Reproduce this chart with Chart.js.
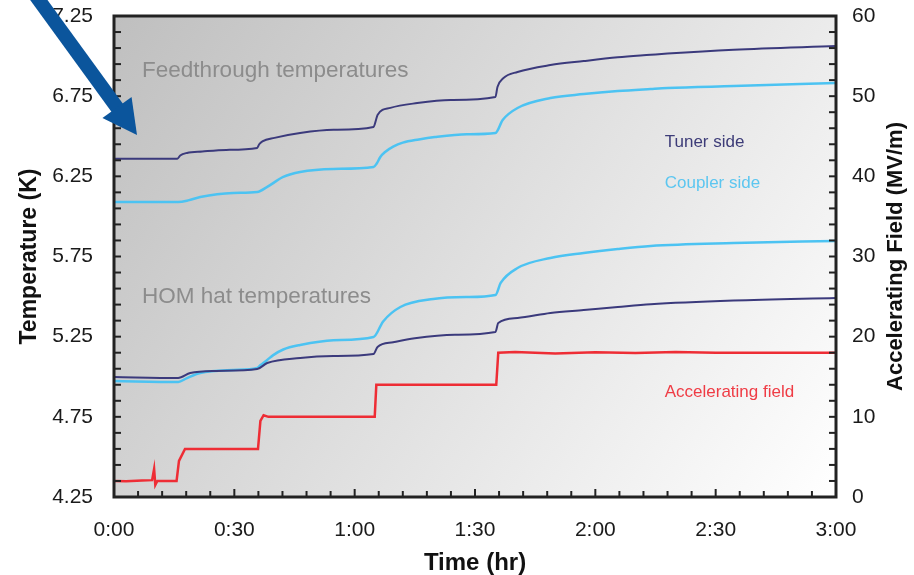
<!DOCTYPE html>
<html lang="en">

<head>
    <meta charset="UTF-8">
    <title>Feedthrough and HOM temperatures</title>
    <script src="https://cdn.jsdelivr.net/npm/chart.js"></script>
    <style>
        html, body { margin: 0; padding: 0; background: #fff; }
        .chart_box { width: 914px; height: 575px; position: relative; }
    </style>
</head>

<body>
    <div class="chart_box">
        <canvas id="tempChart"></canvas>
    </div>

    <script>
        // time in minutes, temperatures in K, field in MV/m
        const ftTunerTime = [0, 15.8, 16.5, 18.2, 22, 28, 35.7, 36.2, 37, 40, 46.4, 54.7, 64.7, 65.3, 65.7, 68.9, 75.6, 83.9, 95.1, 95.6, 97.1, 100.6, 108.8, 117.1, 125.6, 133.8, 138, 154.5, 180];
        const ftTunerTemp = [6.36, 6.36, 6.38, 6.396, 6.405, 6.415, 6.427, 6.45, 6.468, 6.49, 6.52, 6.54, 6.558, 6.6, 6.633, 6.677, 6.707, 6.726, 6.745, 6.807, 6.863, 6.901, 6.944, 6.969, 6.992, 7.008, 7.016, 7.04, 7.063];

        const ftCouplerTime = [0, 16, 18.5, 21.5, 29.7, 35.7, 38.2, 42.2, 46.4, 54.7, 64.7, 65.5, 66.4, 67.5, 69.6, 72, 76, 80, 88, 95.1, 96.9, 100.6, 108.8, 117.1, 125.6, 133.8, 138, 154.5, 180];
        const ftCouplerTemp = [6.09, 6.09, 6.1, 6.121, 6.146, 6.152, 6.184, 6.246, 6.277, 6.296, 6.308, 6.33, 6.371, 6.4, 6.435, 6.46, 6.48, 6.495, 6.512, 6.52, 6.601, 6.676, 6.738, 6.763, 6.782, 6.795, 6.801, 6.813, 6.832];

        const homTunerTime = [0, 16, 19, 25.5, 35.7, 38.2, 46.4, 54.7, 64.7, 65.7, 69.6, 75, 85, 95.1, 95.8, 100.6, 108.8, 117.1, 125.6, 133.8, 154.5, 180];
        const homTunerTemp = [4.998, 4.992, 5.023, 5.036, 5.048, 5.086, 5.117, 5.129, 5.142, 5.186, 5.215, 5.24, 5.262, 5.279, 5.335, 5.366, 5.398, 5.416, 5.435, 5.452, 5.475, 5.491];

        const homCouplerTime = [0, 16, 18.2, 21.5, 29.7, 35.7, 36.4, 38.2, 39.7, 42.2, 46.4, 54.7, 64.7, 67.1, 71.4, 79.6, 87.9, 95.1, 96.4, 100.6, 108.8, 117.1, 125.6, 133.8, 154.5, 180];
        const homCouplerTemp = [4.973, 4.967, 4.992, 5.023, 5.042, 5.055, 5.07, 5.105, 5.135, 5.17, 5.198, 5.228, 5.248, 5.345, 5.435, 5.485, 5.497, 5.51, 5.585, 5.678, 5.741, 5.772, 5.797, 5.816, 5.834, 5.847];

        const fieldTime = [0, 3, 7, 9.5, 10, 10.3, 10.8, 15.6, 16.2, 17.7, 35.9, 36.5, 37.3, 38.5, 65, 65.4, 95.3, 95.8, 100, 110, 120, 130, 140, 150, 180];
        const fieldValue = [2.0, 1.95, 2.05, 2.1, 3.5, 1.5, 2.0, 2.0, 4.5, 6.0, 6.0, 9.5, 10.2, 10.0, 10.0, 14.0, 14.0, 18.0, 18.1, 17.9, 18.05, 17.95, 18.1, 18.0, 18.0];

        const timeTicks = [0, 30, 60, 90, 120, 150, 180];

        const TUNER = '#3b3a7c';
        const COUPLER = '#4cc3f2';
        const FIELD = '#ee2d35';

        Chart.defaults.font.family = "'Liberation Sans', Arial, sans-serif";

        function pts(xs, ys) {
            return xs.map((x, i) => ({ x: x, y: ys[i] }));
        }

        function fmtTime(v) {
            return Math.floor(v / 60) + ':' + String(v % 60).padStart(2, '0');
        }

        // background, frame, inward ticks, notes and the arrow
        const decor = {
            id: 'decor',
            beforeDraw(chart) {
                const { ctx, chartArea: a } = chart;
                const g = ctx.createLinearGradient(a.left, a.top, a.right, a.bottom);
                g.addColorStop(0, '#bfbfbf');
                g.addColorStop(1, '#ffffff');
                ctx.save();
                ctx.fillStyle = g;
                ctx.fillRect(a.left, a.top, a.width, a.height);
                ctx.restore();
            },
            afterDraw(chart) {
                const { ctx, chartArea: a, scales } = chart;
                ctx.save();

                // tick marks
                ctx.strokeStyle = '#222';
                ctx.lineWidth = 2;
                scales.x.ticks.forEach(t => {
                    const px = scales.x.getPixelForValue(t.value);
                    const len = t.label !== '' ? 8 : 6;
                    ctx.beginPath(); ctx.moveTo(px, a.bottom); ctx.lineTo(px, a.bottom - len); ctx.stroke();
                });
                scales.y.ticks.forEach(t => {
                    const py = scales.y.getPixelForValue(t.value);
                    ctx.beginPath(); ctx.moveTo(a.left, py); ctx.lineTo(a.left + 7, py); ctx.stroke();
                });
                scales.y2.ticks.forEach(t => {
                    const py = scales.y2.getPixelForValue(t.value);
                    ctx.beginPath(); ctx.moveTo(a.right, py); ctx.lineTo(a.right - 7, py); ctx.stroke();
                });

                // frame
                ctx.lineWidth = 3;
                ctx.strokeStyle = '#222';
                ctx.strokeRect(a.left, a.top, a.width, a.height);

                // notes
                const note = (txt, t, v, axis, color, size) => {
                    ctx.font = size + "px 'Liberation Sans', Arial, sans-serif";
                    ctx.fillStyle = color;
                    ctx.textAlign = 'left';
                    ctx.textBaseline = 'middle';
                    ctx.fillText(txt, scales.x.getPixelForValue(t), scales[axis].getPixelForValue(v));
                };
                note('Feedthrough temperatures', 7, 6.907, 'y', '#8c8c8c', 22.5);
                note('HOM hat temperatures', 7, 5.497, 'y', '#8c8c8c', 22.5);
                note('Tuner side', 137.3, 6.464, 'y', '#3d3c78', 17);
                note('Coupler side', 137.3, 6.208, 'y', '#5cc6f0', 17);
                note('Accelerating field', 137.3, 13, 'y2', '#ef3c45', 17);

                // right axis title, read bottom to top
                ctx.save();
                ctx.translate(896, (a.top + a.bottom) / 2);
                ctx.rotate(-Math.PI / 2);
                ctx.font = "bold 22px 'Liberation Sans', Arial, sans-serif";
                ctx.fillStyle = '#111';
                ctx.textAlign = 'center';
                ctx.textBaseline = 'middle';
                ctx.fillText('Accelerating Field (MV/m)', 0, 0);
                ctx.restore();

                // blue pointer arrow
                const tipX = 137, tipY = 135;
                const ang = Math.atan2(27.5, 20);
                const ux = Math.cos(ang), uy = Math.sin(ang);
                const bx = tipX - ux * 34, by = tipY - uy * 34;
                ctx.strokeStyle = '#0b559c';
                ctx.fillStyle = '#0b559c';
                ctx.lineWidth = 14;
                ctx.lineCap = 'butt';
                ctx.beginPath();
                ctx.moveTo(bx - ux * 160, by - uy * 160);
                ctx.lineTo(bx + ux * 2, by + uy * 2);
                ctx.stroke();
                ctx.beginPath();
                ctx.moveTo(tipX, tipY);
                ctx.lineTo(bx - uy * 18, by + ux * 18);
                ctx.lineTo(bx + uy * 18, by - ux * 18);
                ctx.closePath();
                ctx.fill();

                ctx.restore();
            }
        };

        const ctx = document.getElementById('tempChart').getContext('2d');

        new Chart(ctx, {
            type: 'line',
            data: {
                datasets: [
                    {
                        label: 'Feedthrough tuner side',
                        data: pts(ftTunerTime, ftTunerTemp),
                        borderColor: TUNER,
                        borderWidth: 2,
                        yAxisID: 'y',
                        cubicInterpolationMode: 'monotone'
                    },
                    {
                        label: 'Feedthrough coupler side',
                        data: pts(ftCouplerTime, ftCouplerTemp),
                        borderColor: COUPLER,
                        borderWidth: 2.5,
                        yAxisID: 'y',
                        cubicInterpolationMode: 'monotone'
                    },
                    {
                        label: 'HOM hat tuner side',
                        data: pts(homTunerTime, homTunerTemp),
                        borderColor: TUNER,
                        borderWidth: 2,
                        yAxisID: 'y',
                        cubicInterpolationMode: 'monotone'
                    },
                    {
                        label: 'HOM hat coupler side',
                        data: pts(homCouplerTime, homCouplerTemp),
                        borderColor: COUPLER,
                        borderWidth: 2.5,
                        yAxisID: 'y',
                        cubicInterpolationMode: 'monotone'
                    },
                    {
                        label: 'Accelerating field',
                        data: pts(fieldTime, fieldValue),
                        borderColor: FIELD,
                        borderWidth: 2.5,
                        yAxisID: 'y2',
                        tension: 0
                    }
                ]
            },
            options: {
                responsive: true,
                maintainAspectRatio: false,
                animation: false,
                elements: { point: { radius: 0 } },
                layout: { padding: { top: 16, left: 0, right: 0, bottom: 0 } },
                plugins: {
                    legend: { display: false },
                    tooltip: { enabled: false }
                },
                scales: {
                    x: {
                        type: 'linear',
                        min: 0,
                        max: 180,
                        grid: { display: false, drawTicks: false },
                        border: { display: false },
                        afterFit: s => { s.height = 78; s.paddingLeft = 0; s.paddingRight = 0; },
                        ticks: {
                            stepSize: 6,
                            autoSkip: false,
                            maxRotation: 0,
                            padding: 21,
                            color: '#1a1a1a',
                            font: { size: 21 },
                            callback: v => timeTicks.includes(v) ? fmtTime(v) : ''
                        },
                        title: {
                            display: true,
                            text: 'Time (hr)',
                            color: '#111',
                            font: { size: 24, weight: 'bold', lineHeight: 1 },
                            padding: { top: 0, bottom: 0 }
                        }
                    },
                    y: {
                        position: 'left',
                        min: 4.25,
                        max: 7.25,
                        grid: { display: false, drawTicks: false },
                        border: { display: false },
                        afterFit: s => { s.width = 114; s.paddingTop = 0; s.paddingBottom = 0; },
                        ticks: {
                            stepSize: 0.1,
                            autoSkip: false,
                            padding: 21,
                            color: '#1a1a1a',
                            font: { size: 21 },
                            callback: v => Math.round((v - 4.25) * 10) % 5 === 0 ? v.toFixed(2) : ''
                        },
                        title: {
                            display: true,
                            text: 'Temperature (K)',
                            color: '#111',
                            font: { size: 23, weight: 'bold' },
                            padding: { top: 16, bottom: 0 }
                        }
                    },
                    y2: {
                        position: 'right',
                        min: 0,
                        max: 60,
                        grid: { display: false, drawTicks: false },
                        border: { display: false },
                        afterFit: s => { s.width = 78; s.paddingTop = 0; s.paddingBottom = 0; },
                        ticks: {
                            stepSize: 2,
                            autoSkip: false,
                            padding: 16,
                            color: '#1a1a1a',
                            font: { size: 21 },
                            callback: v => v % 10 === 0 ? String(v) : ''
                        }
                    }
                }
            },
            plugins: [decor]
        });
    </script>
</body>

</html>
